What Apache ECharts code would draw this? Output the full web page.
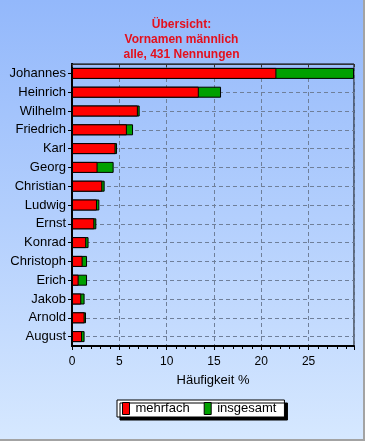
<!DOCTYPE html>
<html>
<head>
<meta charset="utf-8">
<script src="https://cdn.jsdelivr.net/npm/echarts@6/dist/echarts.min.js"></script>
<style>
html,body{margin:0;padding:0;}
#wrap{width:365px;height:441px;box-sizing:border-box;border-right:2px solid #a3a3a3;border-bottom:2px solid #a3a3a3;
background:linear-gradient(to bottom,#93b8fb 0%,#b3cffd 50%,#d6e8ff 100%);}
#chart{width:363px;height:439px;}
</style>
</head>
<body>
<div id="wrap"><div id="chart"></div></div>
<script>
var categories = ['Johannes','Heinrich','Wilhelm','Friedrich','Karl','Georg','Christian','Ludwig','Ernst','Konrad','Christoph','Erich','Jakob','Arnold','August'];
var mehrfach   = [21.6, 13.4, 6.96, 5.8, 4.6, 2.7, 3.2, 2.64, 2.36, 1.5, 1.12, 0.7, 0.98, 1.33, 1.06];
var insgesamt  = [29.8, 15.75, 7.15, 6.45, 4.76, 4.4, 3.45, 2.89, 2.57, 1.75, 1.59, 1.59, 1.33, 1.48, 1.33];
var xTicks = {min: 0, max: 29.8, interval: 5};

var chart = echarts.init(document.getElementById('chart'));
var font = 'Liberation Sans, Arial, sans-serif';
var gridLine = {color: '#6f7f99', type: [4, 3], width: 1};
chart.setOption({
  backgroundColor: 'transparent',
  animation: false,
  title: {
    text: 'Übersicht:\nVornamen männlich\nalle, 431 Nennungen',
    left: 'center', top: 12,
    textStyle: {color: '#e4101c', fontSize: 12, fontWeight: 'bold', fontFamily: font, lineHeight: 15}
  },
  legend: {
    data: ['mehrfach', 'insgesamt'],
    left: 117, top: 400,
    padding: [2, 8, 2, 5],
    backgroundColor: '#ffffff',
    borderColor: '#000', borderWidth: 1,
    shadowColor: '#000', shadowBlur: 0, shadowOffsetX: 3, shadowOffsetY: 3,
    icon: 'rect', itemWidth: 7, itemHeight: 12, itemGap: 14,
    itemStyle: {borderColor: '#000', borderWidth: 1},
    textStyle: {fontSize: 13, fontFamily: font, color: '#000', padding: [0, 0, 0, 1]}
  },
  grid: {left: 72, right: 9, top: 64, bottom: 93, show: true, borderColor: '#000', borderWidth: 1},
  xAxis: [{
    type: 'value', min: xTicks.min, max: xTicks.max, interval: xTicks.interval,
    name: 'Häufigkeit %', nameLocation: 'middle', nameGap: 28,
    nameTextStyle: {fontSize: 13, fontFamily: font, color: '#000'},
    axisLine: {show: true, lineStyle: {color: '#000', width: 2}},
    axisTick: {show: true, length: 4, lineStyle: {color: '#000'}},
    minorTick: {show: true, splitNumber: 5, length: 3, lineStyle: {color: '#000'}},
    axisLabel: {fontSize: 12, fontFamily: font, color: '#000', margin: 10, showMaxLabel: false},
    splitLine: {show: true, lineStyle: gridLine}
  }, {
    type: 'value', position: 'top', min: xTicks.min, max: xTicks.max, interval: xTicks.interval,
    axisLine: {show: true, lineStyle: {color: '#333', width: 1}},
    axisTick: {show: true, inside: true, length: 3, lineStyle: {color: '#333'}},
    axisLabel: {show: false}, splitLine: {show: false}
  }],
  yAxis: [{
    type: 'category', data: categories, inverse: true,
    axisLine: {show: true, lineStyle: {color: '#000', width: 2}},
    axisTick: {show: true, length: 4, alignWithLabel: true, lineStyle: {color: '#000'}},
    axisLabel: {fontSize: 13, fontFamily: font, color: '#000', margin: 6},
    splitLine: {show: false}
  }, {
    type: 'category', data: categories, inverse: true, position: 'right',
    axisLine: {show: true, lineStyle: {color: '#000', width: 2}},
    axisTick: {show: false}, axisLabel: {show: false}, splitLine: {show: false}
  }],
  series: [
    {name: 'raster', type: 'line', data: [], z: 0, silent: true,
     markLine: {silent: true, z: 1, symbol: 'none', label: {show: false},
       lineStyle: gridLine, emphasis: {disabled: true},
       data: categories.map(function (c) { return {yAxis: c}; })}},
    {name: 'insgesamt', type: 'bar', data: insgesamt, barWidth: 11, z: 3,
     itemStyle: {color: '#00a000', borderColor: '#000', borderWidth: 1}},
    {name: 'mehrfach', type: 'bar', data: mehrfach, barWidth: 11, barGap: '-100%', z: 4,
     itemStyle: {color: '#ff0000', borderColor: '#000', borderWidth: 1}}
  ]
});
</script>
</body>
</html>
